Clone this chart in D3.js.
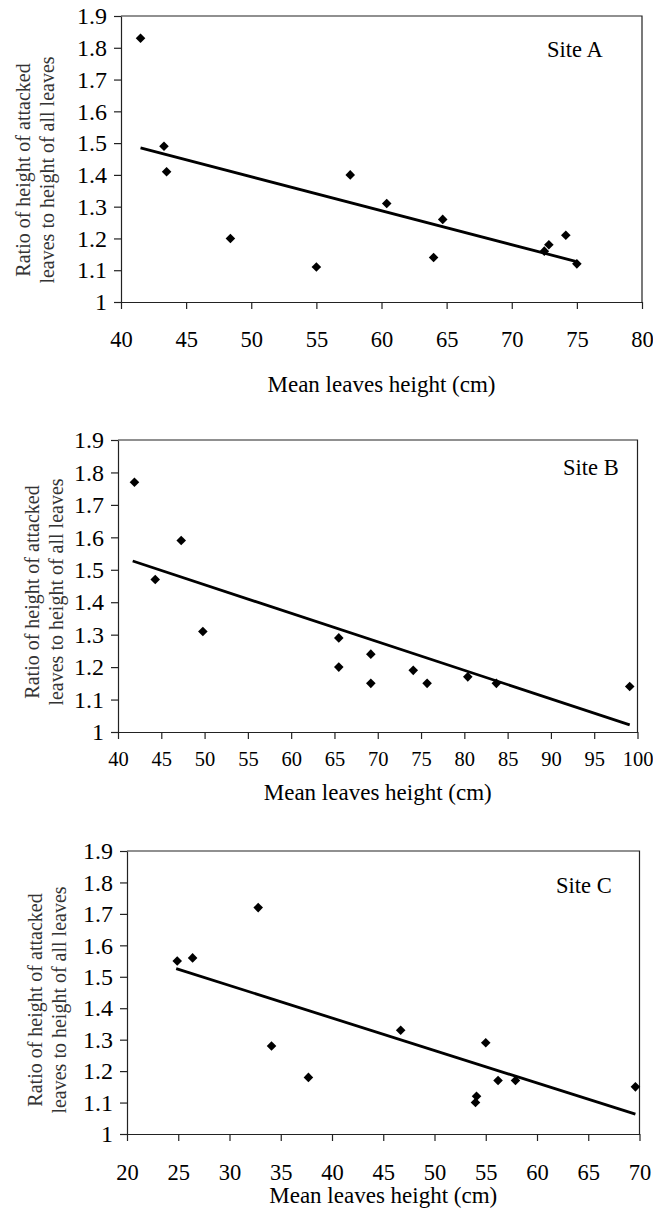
<!DOCTYPE html>
<html>
<head>
<meta charset="utf-8">
<script src="https://cdn.jsdelivr.net/npm/d3@7"></script>
<style>
  html, body { margin: 0; padding: 0; background: #fff; }
  svg { display: block; }
  text { font-family: "Liberation Serif", "Times New Roman", serif; }
</style>
</head>
<body>
<script>
// Ratio of height of attacked leaves to height of all leaves vs mean leaves height, three sites

const siteNames = ["Site A", "Site B", "Site C"];

const yTicks = [1, 1.1, 1.2, 1.3, 1.4, 1.5, 1.6, 1.7, 1.8, 1.9];
const xTicksA = [40, 45, 50, 55, 60, 65, 70, 75, 80];
const xTicksB = [40, 45, 50, 55, 60, 65, 70, 75, 80, 85, 90, 95, 100];
const xTicksC = [20, 25, 30, 35, 40, 45, 50, 55, 60, 65, 70];

// Site A observations
const heightA = [41.5, 43.3, 43.5, 48.4, 55.0, 57.6, 60.4, 64.0, 64.7, 72.5, 72.85, 74.15, 75.0];
const ratioA  = [1.83, 1.49, 1.41, 1.20, 1.11, 1.40, 1.31, 1.14, 1.26, 1.16, 1.18, 1.21, 1.12];
// Site B observations
const heightB = [41.9, 44.3, 47.3, 49.8, 65.5, 65.5, 69.2, 69.2, 74.1, 75.7, 80.4, 83.7, 99.1];
const ratioB  = [1.77, 1.47, 1.59, 1.31, 1.29, 1.20, 1.24, 1.15, 1.19, 1.15, 1.17, 1.15, 1.14];
// Site C observations
const heightC = [24.9, 26.4, 32.8, 34.1, 37.7, 46.7, 54.0, 54.1, 55.0, 56.2, 57.9, 69.6];
const ratioC  = [1.55, 1.56, 1.72, 1.28, 1.18, 1.33, 1.10, 1.12, 1.29, 1.17, 1.17, 1.15];

// Fitted trend lines: [start height, start ratio, end height, end ratio]
const trendA = [41.5, 1.485, 74.9, 1.128];
const trendB = [41.7, 1.527, 99.1, 1.022];
const trendC = [24.8, 1.526, 69.6, 1.063];

const yTitle1 = "Ratio of height of attacked";
const yTitle2 = "leaves to height of all leaves";
const xTitle = "Mean leaves height (cm)";

const W = 653, H = 1211;
const FONT = "'Liberation Serif', 'Times New Roman', serif";
const svg = d3.select("body").append("svg").attr("width", W).attr("height", H);
svg.append("rect").attr("width", W).attr("height", H).attr("fill", "#fff");

const panels = [
  { name: siteNames[0], xs: heightA, ys: ratioA, trend: trendA, xTicks: xTicksA,
    left: 121, right: 642, top: 16, bottom: 302, xPad: 22, xFont: 22.5, titleBase: 392,
    yTitleX: 23, yTitleCy: 170, siteX: 547, siteY: 57 },
  { name: siteNames[1], xs: heightB, ys: ratioB, trend: trendB, xTicks: xTicksB,
    left: 118, right: 637.5, top: 440, bottom: 732, xPad: 12, xFont: 20.5, titleBase: 800,
    yTitleX: 32, yTitleCy: 592, siteX: 563, siteY: 475 },
  { name: siteNames[2], xs: heightC, ys: ratioC, trend: trendC, xTicks: xTicksC,
    left: 127, right: 639.5, top: 851, bottom: 1134, xPad: 23, xFont: 22.5, titleBase: 1203,
    yTitleX: 35, yTitleCy: 1000, siteX: 556, siteY: 893 }
];

const diamond = d3.symbol().type(d3.symbolSquare).size(46);

panels.forEach(p => {
  const x = d3.scaleLinear().domain(d3.extent(p.xTicks)).range([p.left, p.right]);
  const y = d3.scaleLinear().domain(d3.extent(yTicks)).range([p.bottom, p.top]);
  const g = svg.append("g");

  // plot frame (top and right edges)
  g.append("path")
    .attr("d", `M${p.left},${p.top}H${p.right}V${p.bottom}`)
    .attr("fill", "none").attr("stroke", "#222").attr("stroke-width", 1.2);

  const xAxis = g.append("g")
    .attr("transform", `translate(0,${p.bottom})`)
    .call(d3.axisBottom(x).tickValues(p.xTicks).tickSize(7).tickPadding(p.xPad)
      .tickFormat(d => String(d)).tickSizeOuter(0));
  const yAxis = g.append("g")
    .attr("transform", `translate(${p.left},0)`)
    .call(d3.axisLeft(y).tickValues(yTicks).tickSize(7).tickPadding(7)
      .tickFormat(d => String(d)).tickSizeOuter(0));

  [[xAxis, p.xFont], [yAxis, 24]].forEach(([a, fs]) => {
    a.attr("font-family", FONT).attr("font-size", fs);
    a.select(".domain").attr("stroke", "#222").attr("stroke-width", 1.2);
    a.selectAll(".tick line").attr("stroke", "#222").attr("stroke-width", 1.2);
    a.selectAll(".tick text").attr("fill", "#000")
      .style("font-family", FONT).style("font-size", fs + "px");
  });

  // trend line
  g.append("line")
    .attr("x1", x(p.trend[0])).attr("y1", y(p.trend[1]))
    .attr("x2", x(p.trend[2])).attr("y2", y(p.trend[3]))
    .attr("stroke", "#000").attr("stroke-width", 2.8);

  // observations
  g.selectAll("path.pt").data(p.xs.map((v, i) => [v, p.ys[i]])).join("path")
    .attr("class", "pt")
    .attr("d", diamond)
    .attr("transform", d => `translate(${x(d[0])},${y(d[1])}) rotate(45)`)
    .attr("fill", "#000");

  // site label
  g.append("text")
    .attr("x", p.siteX).attr("y", p.siteY)
    .attr("font-size", 22.5).attr("fill", "#000")
    .text(p.name);

  // x-axis title
  g.append("text")
    .attr("x", (p.left + p.right) / 2).attr("y", p.titleBase)
    .attr("text-anchor", "middle").attr("font-size", 23).attr("fill", "#000")
    .text(xTitle);

  // y-axis title, two lines
  const yt = g.append("g")
    .attr("transform", `translate(${p.yTitleX},${p.yTitleCy}) rotate(-90)`);
  yt.append("text").attr("x", 0).attr("y", 0).attr("dy", "0.35em")
    .attr("text-anchor", "middle").attr("font-size", 20).attr("fill", "#333")
    .text(yTitle1);
  yt.append("text").attr("x", 0).attr("y", 24).attr("dy", "0.35em")
    .attr("text-anchor", "middle").attr("font-size", 20).attr("fill", "#333")
    .text(yTitle2);
});
</script>
</body>
</html>
